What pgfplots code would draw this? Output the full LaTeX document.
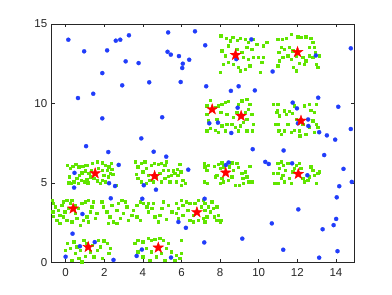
\documentclass[border=0pt]{standalone}
\usepackage{pgfplots}
\pgfplotsset{compat=1.18}
\usepackage{fontspec}
\setmainfont{Liberation Sans}
\definecolor{mblue}{rgb}{0.13,0.24,0.98}
\definecolor{mgreen}{rgb}{0.38,0.90,0.0}
\definecolor{axgray}{rgb}{0.15,0.15,0.15}
\pgfdeclareplotmark{fstar}{%
  \pgfpathmoveto{\pgfpointpolar{90}{\pgfplotmarksize}}%
  \pgfpathlineto{\pgfpointpolar{126}{0.40\pgfplotmarksize}}%
  \pgfpathlineto{\pgfpointpolar{162}{\pgfplotmarksize}}%
  \pgfpathlineto{\pgfpointpolar{198}{0.40\pgfplotmarksize}}%
  \pgfpathlineto{\pgfpointpolar{234}{\pgfplotmarksize}}%
  \pgfpathlineto{\pgfpointpolar{270}{0.40\pgfplotmarksize}}%
  \pgfpathlineto{\pgfpointpolar{306}{\pgfplotmarksize}}%
  \pgfpathlineto{\pgfpointpolar{342}{0.40\pgfplotmarksize}}%
  \pgfpathlineto{\pgfpointpolar{18}{\pgfplotmarksize}}%
  \pgfpathlineto{\pgfpointpolar{54}{0.40\pgfplotmarksize}}%
  \pgfpathclose
  \pgfusepathqfillstroke
}
\begin{document}
\begin{tikzpicture}
\begin{axis}[
  scale only axis,
  width=302.6pt, height=238.3pt,
  xmin=-0.72, xmax=14.95, ymin=0, ymax=15,
  xtick={0,2,...,14}, ytick={0,5,10,15},
  tick align=inside,
  major tick length=3pt,
  axis line style={draw=axgray, line width=0.5pt},
  tick style={draw=axgray, line width=0.5pt},
  tick label style={font=\fontsize{11.5}{13}\selectfont, text=axgray},
  xticklabel style={yshift=-3pt},
  yticklabel style={xshift=-1pt},
  /pgf/number format/assume math mode=true,
  clip=true,
]
% green cluster points
\addplot[color=mgreen, only marks, mark=square*, mark size=1.2pt, mark options={line width=0.3pt}] coordinates {
(0.07,6.13) (0.24,5.92) (0.36,6.06) (0.53,6.19) (0.67,6.02) (0.88,6.06) (1.01,6.13) (1.13,6.11)
(1.36,6.23) (1.62,6.34) (1.88,6.27) (2.05,6.13) (2.22,6.02) (2.36,6.23) (2.39,5.85) (2.31,5.60)
(2.19,5.39) (1.96,5.50) (1.88,5.81) (1.70,5.92) (1.32,5.81) (1.19,5.60) (1.01,5.77) (0.84,5.64)
(0.70,5.50) (0.58,5.29) (0.81,5.18) (0.98,5.08) (1.10,5.22) (1.27,5.39) (1.45,5.29) (1.62,5.14)
(1.79,4.97) (2.05,5.08) (0.19,5.39) (0.15,5.01) (0.29,4.97) (0.41,5.08) (0.64,4.97) (1.15,5.01)
(1.88,5.18) (2.14,5.81) (2.43,5.56) (2.60,4.85)
(-0.70,3.92) (-0.64,3.71) (-0.55,3.50) (-0.67,3.19) (-0.64,2.91) (-0.47,2.66) (-0.30,2.45) (-0.38,3.29)
(-0.21,3.61) (-0.12,3.82) (0.05,3.92) (0.22,3.71) (0.14,3.40) (-0.04,3.19) (-0.12,2.87) (0.05,2.66)
(0.31,2.56) (0.57,2.77) (0.48,3.08) (0.65,3.40) (0.83,3.71) (1.00,3.82) (1.17,3.92) (1.43,3.82)
(1.34,3.50) (1.26,3.19) (1.09,2.87) (0.91,2.66) (1.17,2.56) (1.52,2.77) (1.60,3.08) (0.74,2.35)
(-0.30,2.98) (0.31,3.92) (0.48,3.61)
(1.86,3.82) (1.95,3.50) (2.12,3.19) (2.29,2.87) (2.47,2.56) (2.64,3.29) (2.73,3.71) (2.90,3.92)
(3.07,3.82) (3.16,3.50) (2.98,3.08) (2.81,2.77) (3.24,2.66) (3.42,2.98) (3.50,3.29) (3.68,3.61)
(3.85,3.82) (4.02,3.71) (4.19,3.50) (4.28,3.19) (4.45,3.40) (4.54,3.71) (4.62,2.87) (4.80,2.56)
(4.88,2.98) (4.97,3.40) (5.06,3.82) (3.85,2.66) (3.68,2.87) (2.64,2.45) (2.38,3.61) (2.21,2.45)
(5.30,3.60) (5.50,3.20) (5.20,2.70) (4.26,3.71) (4.78,2.56)
(3.61,6.33) (3.74,6.02) (3.66,5.56) (3.92,6.23) (4.09,6.33) (4.18,5.92) (4.00,5.70) (4.26,5.49)
(4.43,6.12) (4.57,6.23) (4.78,6.19) (4.95,6.23) (5.13,6.12) (5.21,6.33) (5.04,5.81) (4.87,5.60)
(4.69,5.39) (4.52,5.07) (4.35,5.18) (4.18,4.97) (3.92,5.07) (3.74,5.28) (4.95,5.07) (5.13,5.28)
(5.30,5.43) (5.47,5.49) (5.64,5.60) (5.81,5.49) (5.95,5.70) (5.78,5.85) (5.90,6.19) (6.07,5.18)
(6.20,4.97) (5.99,4.86) (5.73,5.07) (5.38,5.07) (5.56,5.77) (5.30,5.81)
(7.16,6.23) (7.21,6.02) (7.30,5.81) (7.39,6.12) (7.68,6.06) (7.90,6.19) (8.08,6.27) (8.16,6.02)
(7.99,5.91) (7.82,5.49) (7.73,5.39) (8.08,5.28) (7.99,4.97) (8.16,5.07) (8.42,5.18) (8.60,5.39)
(8.68,5.81) (8.85,6.23) (8.94,5.98) (9.11,5.60) (9.16,5.28) (9.29,5.70) (9.37,5.39) (9.46,5.07)
(9.63,5.07) (9.54,6.06) (9.20,4.97) (8.99,4.86) (8.77,4.86) (7.16,5.07) (7.33,4.97) (8.60,6.27)
(8.47,6.02)
(5.73,3.71) (5.82,3.40) (5.99,3.92) (6.07,3.61) (6.25,3.82) (6.42,3.71) (6.33,3.29) (6.07,2.98)
(5.82,2.77) (6.42,2.66) (6.59,2.56) (6.85,2.66) (7.11,2.77) (7.20,3.29) (7.02,3.50) (6.68,3.71)
(6.85,3.92) (5.73,3.08) (6.59,2.98) (7.13,3.92) (7.21,3.71) (7.39,3.50) (7.56,3.82) (7.65,3.40)
(7.47,3.19) (7.30,2.87) (7.21,2.56) (7.82,3.50) (7.90,2.98) (7.99,2.56) (7.82,2.66) (8.03,2.66)
(7.68,2.87)
(0.07,1.20) (0.24,0.89) (0.41,1.30) (0.58,0.99) (0.50,0.57) (0.67,0.26) (0.93,1.41) (1.10,1.20)
(1.27,0.68) (1.01,0.40) (1.45,0.36) (1.62,0.78) (1.79,0.99) (1.96,1.37) (2.14,1.20) (2.31,0.89)
(2.22,0.57) (1.88,0.26) (1.70,1.41) (0.84,0.05) (0.32,0.15) (-0.02,0.78) (1.36,1.09) (0.76,0.78)
(3.57,1.19) (3.74,1.40) (4.00,1.30) (4.26,1.51) (4.43,1.40) (4.61,1.44) (4.87,1.51) (5.04,1.40)
(5.30,1.19) (5.21,0.88) (5.47,0.67) (5.73,0.46) (5.90,0.25) (5.99,0.56) (5.64,0.14) (4.95,0.56)
(4.69,0.35) (4.43,0.67) (4.18,0.88) (4.00,0.35) (3.74,0.67) (4.35,0.14) (5.13,0.14) (5.99,1.40)
(10.98,6.23) (11.06,5.91) (10.98,5.60) (10.98,4.97) (11.15,6.33) (11.27,6.12) (11.37,5.81) (11.24,5.49)
(11.32,5.07) (11.58,5.28) (11.67,4.97) (11.75,5.70) (11.84,5.91) (11.93,6.12) (12.10,6.23) (12.18,5.91)
(12.27,5.28) (12.36,5.07) (12.53,5.18) (12.70,6.02) (12.79,5.81) (12.88,5.49) (12.96,4.97) (13.05,5.60)
(13.13,5.70) (12.62,5.39) (11.49,6.23) (11.15,5.28) (10.75,5.60) (10.80,5.00)
(8.03,14.27) (8.30,14.12) (8.51,13.95) (8.42,13.64) (8.65,14.16) (8.89,13.99) (9.03,14.12) (9.29,14.06)
(9.46,13.85) (9.72,14.06) (9.89,13.74) (9.63,13.43) (9.37,13.53) (9.11,13.22) (9.20,12.90) (9.46,12.80)
(9.72,12.90) (9.98,12.90) (10.15,12.59) (10.23,12.90) (10.06,11.96) (9.54,12.38) (9.29,12.17) (8.94,12.27)
(8.68,12.48) (8.42,12.59) (8.16,12.48) (7.99,11.96) (8.25,13.01) (8.08,13.32) (9.03,12.06) (10.23,13.64)
(10.41,13.85) (8.85,13.43)
(10.98,14.06) (11.20,14.06) (11.41,14.12) (11.67,14.37) (12.01,14.20) (12.18,14.16) (12.44,14.20) (12.70,14.12)
(12.79,13.85) (12.88,13.53) (12.93,13.22) (13.13,13.01) (12.96,12.48) (13.05,12.27) (12.62,13.01) (12.44,12.69)
(12.36,12.48) (12.10,12.52) (11.93,12.06) (11.79,12.27) (11.67,12.80) (11.49,13.01) (11.24,12.90) (11.06,12.69)
(10.98,12.38) (11.15,13.53) (11.32,13.43) (11.58,13.53) (11.75,13.32) (12.62,13.53) (12.27,12.90) (11.93,13.01)
(11.03,13.22) (12.79,12.90)
(7.30,9.86) (7.47,10.22) (7.73,9.76) (7.90,9.86) (8.08,9.97) (8.25,10.07) (8.42,10.13) (7.30,9.34)
(7.39,8.92) (7.30,8.29) (7.47,8.45) (7.73,8.33) (7.90,8.18) (8.08,8.60) (8.33,8.71) (8.25,8.29)
(8.03,9.44) (8.33,9.34) (8.68,9.13) (8.60,8.71) (8.77,8.50) (8.94,8.29) (9.03,8.60) (9.20,8.81)
(9.37,9.02) (9.29,9.44) (9.46,9.65) (9.54,9.97) (9.11,10.18) (8.94,9.97) (9.37,10.28) (9.63,9.34)
(9.72,8.71) (9.66,8.29) (9.37,8.29) (8.85,9.44) (7.82,9.02)
(10.98,9.97) (10.94,9.55) (11.06,9.23) (10.98,8.71) (11.06,8.33) (11.15,8.08) (11.32,9.55) (11.41,9.34)
(11.58,9.50) (11.72,9.38) (11.84,9.86) (11.49,8.71) (11.32,8.29) (11.67,8.18) (11.84,8.33) (12.10,8.29)
(12.13,7.97) (12.27,8.71) (12.36,9.86) (12.62,9.97) (12.70,9.59) (12.88,9.44) (12.96,9.97) (12.79,8.92)
(12.96,8.71) (13.05,8.50) (12.88,8.18) (12.44,8.08) (11.93,9.02) (12.62,8.50) (10.75,9.97) (10.92,9.44)
(11.01,8.29) (10.84,8.71)
};
% blue random points
\addplot[color=mblue, only marks, mark=*, mark size=2.1pt, mark options={line width=0.2pt}] coordinates {
(0.14,14.01) (0.96,13.28) (2.15,13.34) (2.60,13.95) (2.83,14.01) (3.28,14.29) (5.31,14.47) (6.70,14.54)
(3.11,12.65) (3.78,12.54) (5.28,13.25) (5.45,13.07) (5.87,12.98) (6.40,12.75) (6.07,12.50) (6.04,12.23)
(1.90,11.91) (2.93,11.14) (4.33,11.33) (5.96,11.35) (1.43,10.61) (0.64,10.34) (1.90,9.06) (5.00,9.13)
(3.92,7.80) (1.06,7.31) (2.21,6.94) (4.56,6.96) (2.75,6.13) (5.21,6.65) (6.35,5.83) (0.46,5.63)
(0.44,4.70) (2.25,4.98) (2.56,4.80) (4.05,4.85) (4.68,4.57) (2.34,4.03) (3.97,4.00) (0.87,3.04)
(5.84,2.54) (6.23,2.17) (0.36,1.80) (0.74,1.01) (1.51,1.27) (0.00,0.35) (2.48,0.15) (3.68,0.40)
(3.95,0.80) (5.46,0.30)
(13.96,7.72) (9.69,7.12) (11.29,7.04) (13.39,6.75) (10.34,6.32) (10.52,6.19) (11.73,6.23) (8.30,6.12)
(8.44,6.28) (12.52,5.48) (14.39,5.88) (14.82,5.06) (14.17,4.79) (14.04,4.09) (7.20,4.00) (12.05,3.33)
(10.68,2.45) (14.01,2.73) (13.88,2.34) (13.31,2.08) (7.18,1.25) (9.15,1.49) (11.27,0.79) (14.08,0.70)
(13.13,0.29)
(7.23,13.66) (9.62,14.03) (8.84,12.79) (10.72,12.01) (12.96,13.02) (14.77,13.47) (7.28,11.08) (8.56,10.79)
(8.96,11.08) (9.80,10.82) (8.91,9.73) (7.44,8.75) (7.89,8.79) (8.58,8.14) (11.76,10.05) (13.08,10.36)
(14.12,9.79) (12.56,8.99) (12.03,8.75) (12.57,8.58) (13.13,8.19) (13.53,7.99) (14.77,8.39) (11.98,9.69)
};
% red centres
\addplot[color=red, only marks, mark=fstar, mark size=5.6pt, mark options={line width=0.4pt}] coordinates {
(1.53,5.60) (0.39,3.38) (1.17,0.96) (4.61,5.43) (6.80,3.15) (4.80,0.92) (8.29,5.64)
(12.05,5.56) (8.80,13.05) (7.59,9.63) (9.09,9.21) (12.01,13.23) (12.19,8.91)
};
\end{axis}
\pgfresetboundingbox
\path (current axis.south west) ++(-51.7pt,-32.7pt) rectangle ++(392pt,295pt);
\end{tikzpicture}
\end{document}
